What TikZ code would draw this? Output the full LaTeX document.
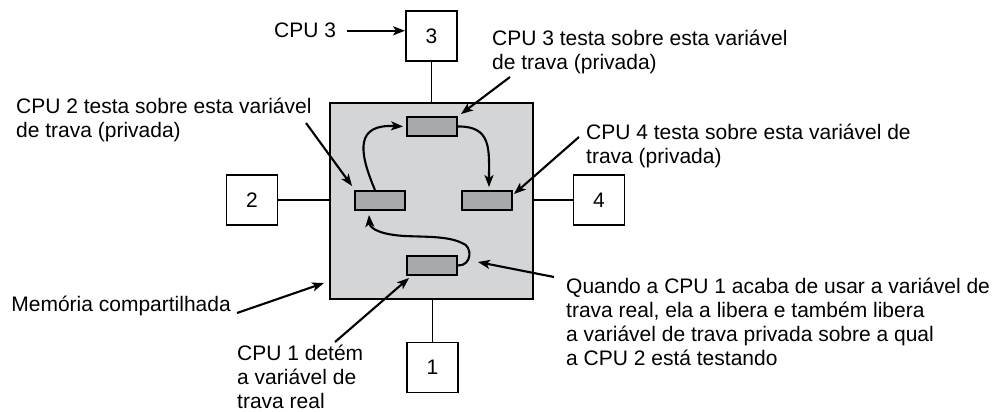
\documentclass[tikz,border=0pt]{standalone}
\usepackage{fontspec}
\setmainfont{Liberation Sans}
\usetikzlibrary{arrows.meta,calc}
\definecolor{memgray}{RGB}{212,213,215}
\definecolor{lockgray}{RGB}{168,169,172}
\begin{document}
\begin{tikzpicture}[x=1pt,y=-1pt,
  every node/.style={font=\fontsize{21}{24}\selectfont},
  cpu/.style={draw,line width=1.9pt,fill=white,minimum width=51pt,minimum height=50pt,inner sep=0},
  lockbox/.style={draw,line width=1.9pt,fill=lockgray,minimum width=50pt,minimum height=19pt,inner sep=0},
  membox/.style={draw,line width=2pt,fill=memgray,minimum width=203pt,minimum height=196pt,inner sep=0},
  lbl/.style={inner sep=0,align=left,anchor=base west},
  ptr/.style={line width=2.1pt,-{Stealth[length=12pt,width=9pt,inset=3pt]}},
  wire/.style={line width=1.6pt}]
\useasboundingbox (0,0) rectangle (999,412);

% memory and lock variables
\node[membox] (mem) at (431.5,201) {};
\node[lockbox] (tr) at (432,126.5) {};
\node[lockbox] (lr) at (380,200.5) {};
\node[lockbox] (rr) at (487,200.5) {};
\node[lockbox] (br) at (432,265.5) {};

% CPUs
\node[cpu] (b3) at (431.5,36) {3};
\node[cpu] (b1) at (432.5,367.5) {1};
\node[cpu] (b2) at (252,200) {2};
\node[cpu] (b4) at (599,200) {4};

\draw[wire] (b3.south) -- (b3.south |- mem.north);
\draw[wire] (b1.north) -- (b1.north |- mem.south);
\draw[wire] (b2.east) -- (b2.east -| mem.west);
\draw[wire] (b4.west) -- (b4.west -| mem.east);

% labels (multi-line nodes: base anchor = last line)
\node[lbl] (cpu3lbl) at (274,38) {CPU 3};
\node[lbl] (t3) at (492,70) {CPU 3 testa sobre esta variável\\de trava (privada)};
\node[lbl] (t2) at (16,137) {CPU 2 testa sobre esta variável\\de trava (privada)};
\node[lbl] (t4) at (586,163) {CPU 4 testa sobre esta variável de\\trava (privada)};
\node[lbl] (tq) at (566,365) {Quando a CPU 1 acaba de usar a variável de\\trava real, ela a libera e também libera\\a variável de trava privada sobre a qual\\a CPU 2 está testando};
\node[inner sep=0,anchor=base east] (tm) at (231,311) {Memória compartilhada};
\node[lbl] (t1) at (237,408) {CPU 1 detém\\a variável de\\trava real};

% pointer start points
\coordinate (s3) at (510,77);
\coordinate (s2) at (306,123);
\coordinate (s4) at (579,137);
\coordinate (sq) at (554,277);
\coordinate (sm) at (237,313);
\coordinate (s1) at (335,342);

\draw[ptr] ([xshift=11pt]cpu3lbl.east) -- (cpu3lbl.east -| b3.west);
\draw[ptr] (s3) -- ([shift={(3,-2)}]tr.north east);
\draw[ptr] (s2) -- ([shift={(-2,-4)}]lr.north west);
\draw[ptr] (s4) -- ([shift={(1,4)}]rr.north east);
\draw[ptr] (sq) -- ([shift={(20,-3.5)}]br.east);
\draw[ptr] (sm) -- ([shift={(-5,-17)}]mem.south west);
\draw[ptr] (s1) -- ([shift={(3,2)}]br.south west);

% curved hand-off arrows
\draw[ptr] ([xshift=-5pt]lr.north) .. controls (358,150) and (356,124) .. ([xshift=-3pt]tr.west);
\draw[ptr] (tr.east) .. controls (492,126) and (489,150) .. ([shift={(2,-3)}]rr.north);
\draw[ptr] (br.east) .. controls (472,266) and (473,246) .. (462,243)
  .. controls (448,236) and (425,237) .. (405,236)
  .. controls (385,235) and (370,230) .. ([shift={(-11,4)}]lr.south);
\end{tikzpicture}
\end{document}
